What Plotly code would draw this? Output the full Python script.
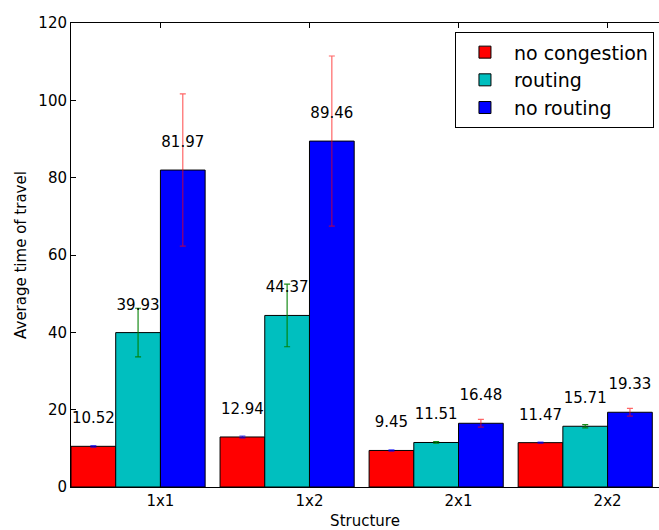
import plotly.graph_objects as go

categories = ["1x1", "1x2", "2x1", "2x2"]
series_names = ["no congestion", "routing", "no routing"]
no_congestion = [10.52, 12.94, 9.45, 11.47]
routing = [39.93, 44.37, 11.51, 15.71]
no_routing = [81.97, 89.46, 16.48, 19.33]
err_no_congestion = [0.2, 0.25, 0.15, 0.15]
err_routing = [6.3, 8.1, 0.2, 0.4]
err_no_routing = [19.7, 22.0, 1.0, 1.0]
y_ticks = [0, 20, 40, 60, 80, 100, 120]

values = [no_congestion, routing, no_routing]
errors = [err_no_congestion, err_routing, err_no_routing]
bar_colors = ["#ff0000", "#00bfbf", "#0000ff"]
err_colors = ["rgba(0,0,255,0.7)", "rgba(0,128,0,0.9)", "rgba(255,0,0,0.6)"]
offsets = [-0.45, -0.15, 0.15]
width = 0.3
FONT = "DejaVu Sans"

fig = go.Figure()
for k in range(3):
    xs = [i + offsets[k] for i in range(len(categories))]
    fig.add_trace(go.Bar(
        x=xs, y=values[k], width=width, name=series_names[k],
        marker=dict(color=bar_colors[k], line=dict(color="black", width=1)),
        error_y=dict(type="data", array=errors[k], visible=True,
                     color=err_colors[k], thickness=1.2, width=3),
    ))
    fig.add_trace(go.Scatter(
        x=xs, y=[v + 5 for v in values[k]], mode="text",
        text=[f"{v:.2f}" for v in values[k]], textposition="top center",
        textfont=dict(family=FONT, size=15, color="black"),
        showlegend=False, hoverinfo="skip", cliponaxis=False,
    ))

fig.update_layout(
    width=659, height=530,
    margin=dict(l=71, r=0, t=23, b=43, autoexpand=False),
    plot_bgcolor="white", paper_bgcolor="white",
    font=dict(family=FONT, size=15, color="black"),
    barmode="overlay",
    showlegend=True,
    legend=dict(x=0.653, y=0.98, xanchor="left", yanchor="top",
                bordercolor="black", borderwidth=1, bgcolor="white",
                font=dict(family=FONT, size=19), traceorder="normal",
                itemwidth=48, tracegroupgap=0),
)
fig.update_xaxes(
    range=[-0.6, 3.345], tickmode="array", automargin=False,
    tickvals=list(range(len(categories))), ticktext=categories,
    ticks="inside", ticklen=5, tickcolor="black",
    showline=True, linecolor="black", linewidth=1, mirror="allticks",
    showgrid=False, zeroline=False,
    title=dict(text="Structure", standoff=6, font=dict(size=15)),
)
fig.update_yaxes(
    range=[0, 120], tickmode="array", tickvals=y_ticks, automargin=False,
    ticks="inside", ticklen=5, tickcolor="black",
    showline=True, linecolor="black", linewidth=1,
    showgrid=False, zeroline=False,
    title=dict(text="Average time of travel", standoff=8, font=dict(size=15)),
)
fig.write_html(
    "out.html",
    config={"displayModeBar": False},
    post_script="document.body.style.margin='0';document.body.style.overflow='hidden';",
)
